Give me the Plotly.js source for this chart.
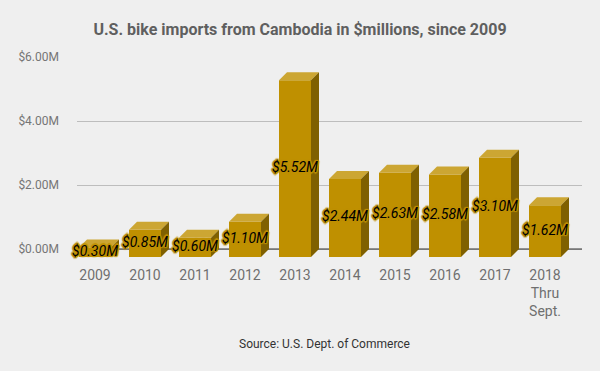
<!DOCTYPE html>
<html>
<head>
<meta charset="utf-8">
<script src="https://cdn.plot.ly/plotly-3.0.1.min.js"></script>
<style>
  html, body { margin: 0; padding: 0; background: #efefef; }
  #chart { width: 600px; height: 371px; }
</style>
</head>
<body>
<div id="chart"></div>
<script>
// ---- data ----
const categories = ['2009', '2010', '2011', '2012', '2013', '2014', '2015', '2016', '2017', '2018<br>Thru<br>Sept.'];
const importsMillions = [0.30, 0.85, 0.60, 1.10, 5.52, 2.44, 2.63, 2.58, 3.10, 1.62];
const yTickValues = [0, 2, 4, 6];
const yTickLabels = ['$0.00M', '$2.00M', '$4.00M', '$6.00M'];

// ---- style ----
const FRONT = '#bf9000';
const TOP = '#cca633';
const SIDE = '#7f6000';
const halfW = 0.32;   // half bar width (x units)
const depthX = 0.16;  // 3D depth in x units
const depthY = 0.25;  // 3D depth in y units

const xs = categories.map((c, i) => i);
const shapes = [];
// baseline
shapes.push({type: 'line', xref: 'x', yref: 'y', x0: -0.36, x1: 9.74, y0: 0, y1: 0,
  line: {color: '#333333', width: 1}, layer: 'between'});

xs.forEach((x, i) => {
  const v = importsMillions[i];
  const l = x - halfW, r = x + halfW, b = -depthY, t = v - depthY;
  // front
  shapes.push({type: 'rect', xref: 'x', yref: 'y', x0: l, x1: r, y0: b, y1: t,
    fillcolor: FRONT, line: {width: 0}, layer: 'between'});
  // top
  shapes.push({type: 'path', xref: 'x', yref: 'y',
    path: `M${l},${t} L${l + depthX},${v} L${r + depthX},${v} L${r},${t} Z`,
    fillcolor: TOP, line: {width: 0}, layer: 'between'});
  // side
  shapes.push({type: 'path', xref: 'x', yref: 'y',
    path: `M${r},${b} L${r + depthX},0 L${r + depthX},${v} L${r},${t} Z`,
    fillcolor: SIDE, line: {width: 0}, layer: 'between'});
});

const halo = ['1px 1px 1px', '-1px -1px 1px', '1px -1px 1px', '-1px 1px 1px', '0px 1.5px 1px', '0px -1.5px 1px', '1.5px 0px 1px', '-1.5px 0px 1px']
  .map(s => s + ' ' + FRONT).join(', ');

const labels = {
  type: 'scatter',
  mode: 'text',
  x: xs,
  y: importsMillions.map(v => v / 2 - depthY),
  text: importsMillions.map(v => '$' + v.toFixed(2) + 'M'),
  textposition: 'middle center',
  cliponaxis: false,
  hoverinfo: 'skip',
  showlegend: false,
  textfont: {family: 'Roboto', size: 14, color: '#000000', style: 'italic', shadow: halo}
};

const layout = {
  width: 600, height: 371,
  paper_bgcolor: '#efefef', plot_bgcolor: '#efefef',
  margin: {l: 77, r: 18, t: 57, b: 112},
  showlegend: false,
  title: {
    text: 'U.S. bike imports from Cambodia in $millions, since 2009',
    font: {family: 'Roboto', size: 16, color: '#5f5f5f', weight: 'bold'},
    x: 0.5, xanchor: 'center', y: 1 - 29 / 371, yanchor: 'middle', yref: 'container'
  },
  xaxis: {
    range: [-0.36, 9.74],
    tickmode: 'array', tickvals: xs, ticktext: categories,
    showgrid: false, zeroline: false, showline: false,
    ticks: '', ticklabelstandoff: 6,
    tickfont: {family: 'Roboto', size: 14, color: '#6f6f6f'},
    fixedrange: true
  },
  yaxis: {
    range: [-0.3125, 6],
    tickmode: 'array', tickvals: yTickValues, ticktext: yTickLabels,
    showgrid: true, gridcolor: '#bdbdbd', gridwidth: 1,
    zeroline: false, showline: false, ticks: '',
    ticklabelstandoff: 17,
    tickfont: {family: 'Roboto', size: 12, color: '#757575'},
    fixedrange: true
  },
  shapes: shapes,
  annotations: [{
    text: 'Source: U.S. Dept. of Commerce',
    xref: 'paper', yref: 'paper', x: (324 - 77) / 505, y: (259 - 344) / 202,
    xanchor: 'center', yanchor: 'middle', showarrow: false,
    font: {family: 'Roboto', size: 12, color: '#333333'}
  }]
};

Plotly.newPlot('chart', [labels], layout, {displayModeBar: false, staticPlot: true});
</script>
</body>
</html>
